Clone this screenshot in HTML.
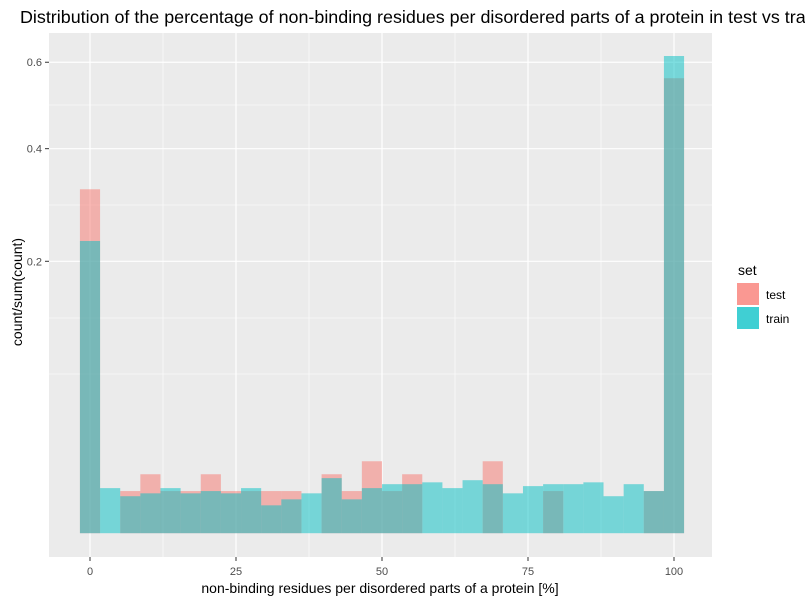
<!DOCTYPE html>
<html><head><meta charset="utf-8"><style>body{margin:0;background:#fff}svg{display:block;font-family:"Liberation Sans",Arial,sans-serif}</style></head>
<body>
<svg id="chart" width="805" height="603" xmlns="http://www.w3.org/2000/svg">
<text x="20" y="23" font-size="17.9" fill="#000">Distribution of the percentage of non-binding residues per disordered parts of a protein in test vs train</text>
<rect x="49" y="33" width="663" height="524" fill="#EBEBEB"/>
<g id="grid"></g><g id="bars"></g><g id="axes"></g>
<text x="380" y="593" font-size="14" text-anchor="middle" fill="#000">non-binding residues per disordered parts of a protein [%]</text>
<text transform="translate(22,292) rotate(-90)" font-size="14" text-anchor="middle" fill="#000">count/sum(count)</text>
<g>
<text x="738" y="275" font-size="14">set</text>
<rect x="737" y="283" width="22" height="22" fill="#F8766D" fill-opacity="0.75"/>
<text x="766" y="299" font-size="12">test</text>
<rect x="737" y="307" width="22" height="22" fill="#00BFC4" fill-opacity="0.75"/>
<text x="766" y="323" font-size="12">train</text>
</g>
</svg>
<script>
const binCenters = [];
for (let i = 0; i < 30; i++) binCenters.push(i * 100 / 29);
const testValues = [0.320,0,0.0048,0.0094,0.0048,0.0048,0.0094,0.0048,0.0048,0.0048,0.0048,0,0.0094,0.0048,0.0140,0.0048,0.0094,0,0,0,0.0140,0,0,0.0048,0,0,0,0,0.0048,0.560];
const trainValues = [0.231,0.0055,0.0037,0.0043,0.0055,0.0043,0.0048,0.0043,0.0055,0.0021,0.0031,0.0043,0.0082,0.0031,0.0055,0.0065,0.0065,0.0070,0.0055,0.0076,0.0065,0.0043,0.0060,0.0065,0.0065,0.0070,0.0037,0.0065,0.0048,0.616];
const xTicks = [0,25,50,75,100];
const yTicks = [0.2,0.4,0.6];
const binWidth = 100/29;
const NS="http://www.w3.org/2000/svg";
const x = v => 90 + v*5.84;
const y = v => 533.2 - Math.sqrt(v)*608;
function mk(tag, attrs, parent){const e=document.createElementNS(NS,tag);for(const k in attrs)e.setAttribute(k,attrs[k]);parent.appendChild(e);return e;}
const grid=document.getElementById('grid'), bars=document.getElementById('bars'), axes=document.getElementById('axes');
[318,374,205,105].forEach(py=>{const l=mk('line',{x1:49,x2:712,y1:py,y2:py,stroke:'#fff','stroke-width':0.6},grid);

});
for(let i=0;i<xTicks.length-1;i++){const px=x((xTicks[i]+xTicks[i+1])/2);const l=mk('line',{x1:px,x2:px,y1:33,y2:557,stroke:'#fff','stroke-width':0.6},grid);

}
yTicks.forEach(t=>{const py=y(t);const l=mk('line',{x1:49,x2:712,y1:py,y2:py,stroke:'#fff','stroke-width':1.2},grid);


const tk=mk('line',{x1:45,x2:49,y1:py,y2:py,stroke:'#333','stroke-width':1},axes);


const tx=mk('text',{x:42,y:py+4,'font-size':11,'text-anchor':'end',fill:'#4D4D4D'},axes);tx.textContent=t.toFixed(1);

});
xTicks.forEach(t=>{const px=x(t);const l=mk('line',{x1:px,x2:px,y1:33,y2:557,stroke:'#fff','stroke-width':1.2},grid);


const tk=mk('line',{x1:px,x2:px,y1:557,y2:561,stroke:'#333','stroke-width':1},axes);


const tx=mk('text',{x:px,y:575,'font-size':11,'text-anchor':'middle',fill:'#4D4D4D'},axes);tx.textContent=t;

});
function drawSeries(vals,color,name){vals.forEach((v,i)=>{if(v<=0)return;const x0=x(binCenters[i]-binWidth/2),x1=x(binCenters[i]+binWidth/2);
const r=mk('rect',{x:x0,y:y(v),width:x1-x0,height:y(0)-y(v),fill:color,'fill-opacity':0.5},bars);

});}
drawSeries(testValues,'#F8766D','test');
drawSeries(trainValues,'#00BFC4','train');
</script>
</body></html>
